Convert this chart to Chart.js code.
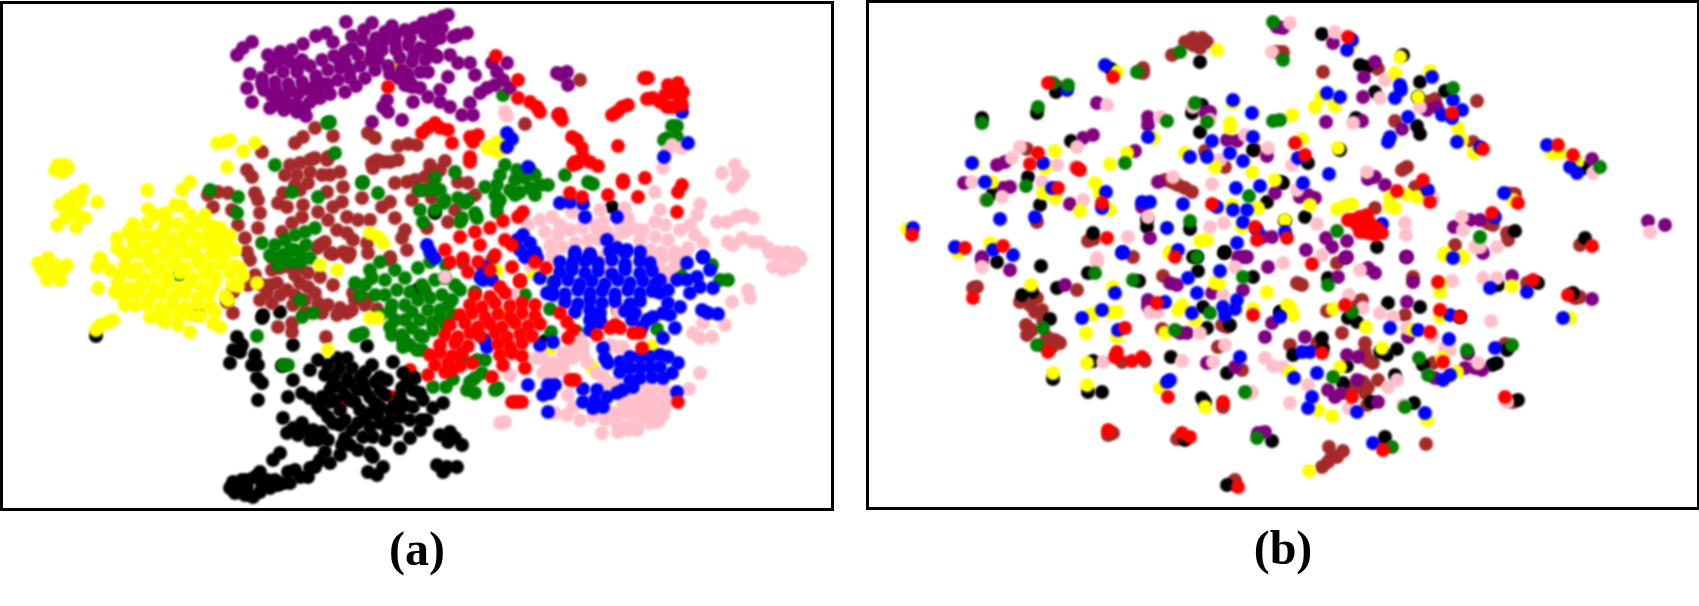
<!DOCTYPE html>
<html>
<head>
<meta charset="utf-8">
<title>t-SNE panels</title>
<script src="https://cdn.jsdelivr.net/npm/chart.js@4/dist/chart.umd.min.js"></script>
<style>
  html, body { margin: 0; padding: 0; background: #fff; }
  canvas { position: absolute; top: 0; }
  #panelA { left: 0; }
  #panelB { left: 849px; }
</style>
</head>
<body>
<canvas id="panelA" width="849" height="606"></canvas>
<canvas id="panelB" width="850" height="606"></canvas>
<script>
// values, in the picture's own x / y units

// panel (a)
const aPurple = [[237,55],[243,48],[252,42],[346,22],[372,23],[303,44],[316,36],[326,33],[333,42],[268,55],[280,52],[292,50],[278,62],[290,62],[302,60],[270,68],[283,72],[297,72],[310,66],[322,60],[334,56],[345,52],[250,74],[262,78],[275,82],[288,84],[302,82],[316,76],[328,70],[340,68],[247,88],[252,102],[264,90],[272,96],[285,96],[298,94],[310,90],[322,84],[270,108],[284,110],[297,112],[306,116],[282,100],[296,104],[310,102],[320,98],[330,94],[318,90],[345,92],[356,86],[365,78],[350,70],[352,36],[362,40],[372,46],[385,32],[392,26],[405,30],[415,28],[425,34],[423,23],[433,20],[442,17],[448,15],[453,37],[467,33],[458,35],[345,62],[358,55],[370,60],[382,50],[395,42],[408,45],[420,48],[432,42],[440,38],[375,70],[388,66],[400,58],[412,62],[425,60],[420,72],[408,74],[435,55],[450,55],[437,57],[458,63],[470,63],[428,72],[448,77],[475,75],[440,90],[428,97],[450,107],[440,102],[470,103],[462,115],[473,115],[492,63],[507,63],[497,72],[503,80],[487,88],[480,93],[510,88],[495,85],[562,75],[557,73],[568,85],[567,72],[387,100],[383,107],[388,112],[372,122],[402,120],[413,102],[412,87],[405,85],[420,88],[274,60],[286,56],[298,66],[262,84],[276,90],[290,90],[304,88],[316,84],[276,104],[290,106],[304,108],[316,96],[328,84],[338,80],[350,78],[360,66],[372,54],[384,40],[396,34],[410,38],[424,28],[434,30],[378,60],[390,74],[402,70],[414,54],[428,50],[442,28],[340,60],[352,48],[364,30],[376,38],[396,50],[410,82],[398,78]];
const aYellow = [[58,165],[65,165],[55,170],[62,172],[68,168],[60,205],[68,200],[75,195],[83,190],[80,200],[97,202],[70,212],[78,215],[65,218],[85,218],[57,225],[76,227],[72,205],[38,263],[48,258],[42,270],[52,272],[62,270],[67,265],[55,265],[47,280],[60,280],[96,330],[100,325],[108,322],[113,320],[147,190],[182,190],[190,182],[148,209],[165,213],[175,205],[182,206],[167,220],[133,224],[147,223],[117,238],[133,241],[117,248],[122,252],[100,258],[217,143],[225,142],[230,140],[255,143],[243,151],[227,167],[165,226],[178,224],[191,227],[200,222],[212,226],[220,228],[150,236],[161,233],[172,238],[184,234],[196,237],[208,233],[220,238],[230,235],[135,245],[147,248],[158,243],[170,247],[182,244],[194,248],[206,243],[218,247],[228,244],[128,255],[140,253],[152,258],[164,254],[176,257],[188,253],[200,258],[212,254],[224,257],[125,265],[137,268],[149,263],[161,267],[173,264],[185,268],[197,263],[209,267],[221,264],[235,266],[120,275],[132,273],[144,278],[156,274],[168,277],[180,273],[192,278],[204,274],[216,277],[230,273],[243,276],[118,285],[130,288],[142,283],[154,287],[166,284],[178,288],[190,283],[202,287],[214,284],[238,286],[125,295],[137,293],[149,298],[161,294],[173,297],[185,293],[197,298],[209,294],[225,296],[147,305],[160,308],[172,304],[185,307],[197,304],[210,306],[165,315],[178,314],[98,288],[97,267],[102,262],[118,282],[115,292],[125,305],[139,290],[150,317],[165,322],[190,315],[210,307],[213,323],[190,332],[220,327],[378,237],[383,243],[370,233],[320,265],[337,270],[257,283],[370,318],[378,318],[328,350],[497,271],[533,273],[507,314],[550,348],[592,367],[652,346],[488,148],[497,142],[505,148],[488,147],[497,152],[398,67],[215,240],[235,250],[240,268],[232,285],[228,300],[215,312],[200,316],[178,325],[160,318],[135,305],[122,295],[110,270],[155,215],[190,215],[205,215],[140,235],[128,232]];
const aRed = [[388,87],[496,56],[518,80],[518,98],[530,102],[537,107],[540,112],[558,115],[562,120],[560,114],[572,137],[577,140],[582,148],[578,163],[573,165],[575,162],[590,162],[598,166],[583,157],[618,146],[623,180],[623,183],[645,178],[682,185],[678,192],[638,197],[608,195],[570,193],[582,197],[677,212],[523,212],[518,217],[503,221],[644,78],[648,78],[647,99],[653,98],[660,102],[667,107],[673,107],[682,105],[668,85],[678,83],[683,92],[673,93],[665,95],[680,98],[628,105],[622,107],[617,112],[612,115],[435,123],[428,128],[440,128],[448,130],[452,143],[422,133],[470,137],[478,135],[473,142],[470,157],[470,162],[445,250],[460,237],[475,232],[490,228],[505,240],[512,245],[480,245],[495,255],[450,262],[463,258],[478,262],[468,272],[490,270],[500,287],[475,295],[490,297],[505,293],[520,282],[470,305],[482,307],[495,303],[510,306],[522,303],[535,305],[460,315],[472,313],[485,317],[498,314],[510,317],[522,313],[535,316],[450,325],[465,323],[478,327],[490,324],[502,327],[515,323],[528,326],[540,324],[445,335],[458,337],[470,333],[480,336],[495,333],[507,337],[520,334],[532,336],[440,345],[455,343],[468,346],[498,344],[510,347],[522,343],[430,355],[440,353],[452,356],[462,353],[500,355],[512,353],[522,356],[435,365],[448,363],[460,366],[472,363],[503,365],[445,372],[452,370],[525,368],[428,375],[492,377],[567,322],[573,330],[568,338],[560,313],[615,325],[620,328],[610,328],[633,333],[640,333],[597,335],[642,348],[575,380],[570,380],[517,402],[522,402],[512,402],[678,402],[512,267],[520,280],[535,262],[546,268]];
const aRedOver = [[392,397],[410,370],[341,403],[618,310]];
const aBlue = [[507,133],[512,139],[507,147],[528,167],[560,203],[570,202],[583,204],[585,217],[617,217],[682,112],[688,143],[664,157],[517,240],[523,235],[530,243],[520,250],[535,252],[525,257],[427,245],[430,252],[607,240],[617,248],[627,250],[575,257],[590,257],[703,257],[575,252],[590,254],[610,251],[625,253],[640,252],[560,262],[572,264],[585,261],[598,263],[612,260],[625,264],[640,261],[650,263],[560,272],[572,270],[585,273],[598,271],[612,274],[625,270],[640,273],[652,271],[555,282],[568,280],[580,284],[592,281],[605,284],[618,280],[630,283],[643,281],[655,284],[660,280],[552,292],[565,294],[578,290],[590,293],[602,291],[615,294],[628,290],[640,293],[652,291],[565,302],[578,304],[590,300],[602,303],[615,301],[630,304],[640,301],[575,312],[590,310],[600,313],[625,311],[635,313],[590,320],[600,321],[632,320],[483,280],[492,280],[480,277],[530,255],[537,258],[540,278],[547,293],[553,295],[590,330],[600,323],[593,317],[540,345],[553,342],[487,347],[485,340],[687,263],[703,257],[710,270],[697,277],[687,280],[677,280],[668,290],[660,293],[690,293],[700,287],[713,288],[680,307],[668,303],[663,313],[653,317],[647,320],[670,315],[702,310],[708,313],[718,314],[675,328],[663,338],[642,327],[603,348],[605,358],[608,363],[620,362],[630,357],[640,357],[650,357],[660,355],[668,357],[678,363],[620,372],[630,368],[640,368],[650,367],[660,367],[672,373],[630,380],[640,378],[652,377],[663,378],[633,387],[677,392],[583,389],[583,402],[597,390],[595,400],[607,397],[617,393],[623,390],[593,408],[603,407],[528,385],[555,385],[548,385],[543,395],[550,393],[548,412],[435,258],[483,267]];
const aPink = [[505,112],[507,116],[735,165],[722,173],[737,173],[743,175],[733,187],[738,182],[663,168],[655,192],[700,204],[697,215],[717,222],[727,222],[737,217],[745,215],[753,218],[728,242],[733,245],[742,238],[753,242],[760,242],[768,248],[778,252],[787,252],[795,253],[800,257],[770,253],[780,257],[790,257],[800,260],[773,267],[783,270],[793,267],[748,290],[750,298],[732,302],[725,325],[703,323],[693,333],[700,338],[712,337],[700,373],[689,389],[672,145],[667,151],[682,148],[703,243],[660,210],[655,222],[665,225],[643,230],[655,237],[668,240],[680,230],[690,225],[695,235],[640,240],[650,250],[662,252],[675,252],[688,248],[650,255],[662,258],[675,258],[685,255],[660,270],[670,272],[665,278],[675,265],[540,220],[552,217],[560,225],[572,212],[585,217],[545,232],[558,235],[570,230],[582,228],[595,225],[550,245],[562,247],[575,243],[588,240],[598,232],[575,255],[590,252],[552,255],[528,225],[585,262],[600,210],[603,222],[607,232],[615,238],[625,232],[628,218],[625,208],[600,240],[633,228],[620,225],[605,255],[605,268],[618,312],[617,347],[610,345],[623,347],[445,277],[513,295],[530,265],[543,358],[537,358],[548,365],[543,373],[553,373],[553,363],[563,363],[563,353],[573,358],[583,353],[583,345],[580,338],[587,362],[573,348],[563,370],[597,373],[603,377],[615,383],[607,383],[568,395],[573,407],[555,413],[567,415],[580,420],[505,422],[500,423],[510,375],[593,416],[653,387],[663,388],[670,397],[647,390],[633,397],[642,398],[652,398],[662,398],[623,403],[633,405],[643,407],[653,408],[665,407],[613,413],[623,413],[633,415],[643,417],[653,417],[663,415],[605,420],[617,423],[627,427],[637,427],[650,423],[658,422],[618,432],[628,430],[602,433],[637,430]];
const aGreen = [[327,123],[330,122],[335,153],[275,165],[210,190],[238,197],[363,182],[362,183],[318,197],[292,192],[378,193],[237,213],[275,245],[285,240],[295,235],[305,232],[315,228],[270,255],[282,255],[294,250],[306,245],[290,262],[278,265],[262,243],[310,258],[300,262],[500,175],[505,165],[517,170],[515,180],[497,185],[485,187],[530,170],[525,178],[535,175],[540,185],[548,185],[510,190],[520,192],[495,195],[530,188],[535,195],[500,200],[497,205],[497,212],[515,195],[565,175],[588,182],[593,184],[455,172],[440,190],[430,190],[445,200],[443,203],[435,210],[458,198],[465,203],[468,200],[475,213],[477,218],[420,210],[423,222],[460,222],[462,218],[435,178],[420,190],[503,95],[677,126],[672,126],[668,138],[677,137],[664,140],[365,285],[355,283],[370,270],[380,262],[375,295],[385,280],[395,270],[405,278],[418,268],[430,262],[385,295],[397,290],[410,292],[422,285],[435,280],[445,278],[455,285],[392,305],[405,305],[418,300],[430,298],[442,295],[452,300],[460,290],[428,310],[440,310],[452,315],[420,320],[432,322],[445,325],[395,320],[405,320],[392,335],[402,335],[410,345],[403,340],[420,335],[380,315],[433,330],[423,337],[422,350],[257,336],[300,300],[302,317],[283,365],[288,365],[313,313],[358,335],[355,336],[363,333],[390,327],[403,338],[403,347],[417,350],[463,360],[477,360],[485,360],[482,373],[475,378],[470,382],[467,390],[475,393],[498,388],[495,390],[453,379],[446,387],[433,387],[475,292],[525,295],[550,309],[551,332],[553,282],[577,332],[657,329],[680,273],[712,265],[720,280],[728,280],[446,265],[179,275],[372,278],[390,312],[412,312],[425,290],[440,318],[412,328],[448,305],[360,295],[290,250],[300,252]];
const aBrown = [[295,143],[303,137],[315,128],[333,136],[368,133],[375,138],[398,146],[408,144],[417,145],[328,157],[327,160],[262,152],[247,170],[252,177],[340,172],[290,165],[300,163],[310,160],[285,175],[297,175],[310,172],[322,175],[295,185],[308,183],[300,190],[315,158],[330,175],[372,163],[377,160],[383,162],[390,162],[398,160],[373,168],[395,183],[407,182],[415,180],[412,200],[418,190],[208,195],[218,192],[228,193],[213,207],[232,210],[255,193],[258,200],[283,193],[278,203],[287,207],[260,213],[303,205],[327,192],[343,187],[342,202],[362,198],[333,207],[347,217],[382,207],[390,202],[318,212],[302,217],[292,223],[282,232],[328,220],[358,220],[370,220],[395,218],[337,230],[347,233],[405,230],[402,238],[238,225],[258,228],[245,238],[320,245],[325,242],[317,248],[353,240],[367,243],[343,252],[350,253],[330,253],[407,250],[390,257],[247,252],[273,258],[430,165],[445,161],[430,173],[440,170],[425,177],[425,190],[432,198],[433,185],[458,182],[468,183],[475,195],[455,210],[448,222],[427,228],[525,124],[580,80],[250,260],[272,270],[280,268],[290,267],[300,267],[308,273],[320,277],[333,285],[277,283],[267,293],[287,290],[300,283],[308,287],[315,293],[260,300],[272,303],[293,305],[328,305],[322,313],[337,315],[347,313],[355,300],[362,298],[367,300],[353,293],[377,309],[248,285],[233,292],[227,302],[233,313],[198,314],[292,323],[278,327],[292,332],[326,337],[463,263],[492,260],[368,253],[390,260],[348,257],[333,254],[283,265],[295,275],[280,295],[295,295],[305,300],[318,303],[270,285],[255,275],[262,285],[340,308],[352,310],[365,305],[305,312]];
const aBlack = [[96,336],[280,312],[262,318],[263,315],[293,345],[367,346],[282,366],[237,337],[242,345],[233,350],[240,352],[230,363],[255,355],[252,365],[258,365],[257,378],[262,383],[258,400],[288,397],[293,380],[283,418],[318,360],[310,370],[337,358],[347,358],[340,368],[325,375],[347,378],[372,365],[393,362],[360,377],[380,377],[333,383],[302,393],[310,398],[322,397],[330,390],[340,387],[350,383],[322,410],[328,417],[333,423],[340,410],[350,400],[357,390],[363,383],[370,397],[380,390],[387,380],[360,410],[370,413],[380,407],[390,410],[400,397],[407,383],[413,390],[403,373],[358,423],[370,427],[380,423],[390,420],[400,417],[363,437],[373,437],[385,440],[397,430],[410,438],[420,430],[400,448],[413,407],[420,393],[345,438],[302,423],[293,428],[287,433],[298,435],[313,430],[310,440],[318,440],[328,440],[358,450],[370,453],[373,457],[368,472],[377,475],[383,467],[340,455],[330,463],[320,460],[315,467],[308,477],[300,477],[288,472],[290,483],[283,483],[275,480],[267,480],[260,472],[255,477],[270,488],[260,492],[253,497],[245,495],[235,493],[230,488],[233,482],[242,480],[248,480],[280,453],[273,460],[423,400],[433,408],[443,403],[427,420],[421,420],[450,432],[455,438],[462,445],[448,442],[440,435],[437,465],[447,467],[457,467],[443,472],[545,341],[435,213],[612,207],[417,290],[335,400],[345,395],[355,402],[365,390],[375,403],[385,395],[395,405],[405,405],[345,420],[352,430],[365,418],[378,415],[388,430],[400,408],[318,405],[330,402],[340,425],[322,432],[305,430],[350,445],[410,420],[402,388],[375,382],[365,372],[352,368],[335,375],[328,365],[415,378],[342,445],[278,485],[262,484],[247,488],[240,488],[295,470],[310,468],[325,452]];

// panel (b)
const bRed = [[1048,83],[1113,77],[1038,153],[1030,164],[1077,168],[1080,170],[1058,188],[1212,204],[1102,203],[1107,238],[1003,246],[965,248],[912,235],[1175,257],[1255,227],[1257,240],[1348,37],[1452,113],[1295,143],[1483,149],[1558,145],[1573,155],[1305,155],[1423,180],[1397,191],[1430,202],[1353,220],[1360,217],[1367,215],[1348,220],[1357,225],[1363,227],[1370,223],[1377,228],[1382,233],[1360,232],[1368,233],[1375,235],[1492,213],[1592,246],[1287,238],[1518,203],[973,298],[1048,352],[1117,352],[1115,357],[1132,361],[1142,357],[1125,328],[1168,397],[1223,402],[1108,430],[1182,433],[1190,437],[1238,487],[1157,303],[1253,315],[1312,264],[1345,305],[1438,282],[1440,310],[1460,317],[1533,280],[1568,295],[1430,332],[1443,362],[1505,397],[1322,353],[1352,397],[1383,450]];
const bGreen = [[1068,85],[1053,83],[1180,52],[1273,22],[1038,107],[1167,121],[1207,122],[1273,121],[1026,186],[1125,163],[1249,196],[1190,221],[987,200],[1137,72],[1195,103],[982,123],[1337,231],[1453,88],[1600,167],[1480,237],[1283,60],[1280,120],[1095,273],[1133,280],[1210,313],[1175,330],[1245,392],[1257,438],[1197,257],[1037,345],[1043,328],[1243,277],[1333,377],[1328,285],[1352,312],[1419,358],[1428,375],[1467,350],[1405,407],[1392,447],[1512,345]];
const bBlue = [[1105,65],[1067,90],[1233,100],[1252,113],[1148,137],[1212,141],[1253,137],[1230,153],[1190,157],[1207,157],[1243,161],[972,163],[1043,163],[985,182],[1052,188],[1106,192],[1236,188],[1260,186],[1000,219],[1035,217],[1142,202],[1150,202],[1183,204],[1217,207],[1233,210],[1247,210],[1102,208],[913,228],[955,247],[993,250],[1013,255],[1237,243],[1257,230],[1243,222],[1123,252],[1178,250],[1167,228],[1347,50],[1352,40],[1400,85],[1401,90],[1395,98],[1327,93],[1340,97],[1432,77],[1453,100],[1462,110],[1442,115],[1452,118],[1408,117],[1390,137],[1388,142],[1457,142],[1480,147],[1547,145],[1570,167],[1577,173],[1329,174],[1303,183],[1428,190],[1382,224],[1495,217],[1504,193],[1285,232],[1298,158],[1122,253],[1188,278],[1197,293],[1220,271],[1165,302],[1223,307],[1237,300],[1235,309],[1225,315],[1115,293],[1192,313],[1082,318],[1102,310],[1118,330],[1167,382],[1170,380],[1240,357],[1280,317],[1302,352],[1310,352],[1317,373],[1294,378],[1312,397],[1308,408],[1357,412],[1390,328],[1418,330],[1449,339],[1450,315],[1443,380],[1450,375],[1425,413],[1373,443],[1495,348],[1563,318],[1527,292],[1490,288],[1453,258]];
const bYellow = [[1217,50],[1117,72],[1230,123],[1230,128],[1153,138],[1233,103],[1055,151],[1110,164],[974,163],[1045,168],[1185,153],[1252,172],[992,182],[1215,167],[1095,183],[1100,193],[1043,193],[1055,198],[1080,211],[1110,210],[1232,205],[1258,208],[1242,227],[1275,180],[1168,228],[907,229],[958,250],[990,243],[1170,252],[1200,241],[1207,240],[1127,153],[1430,71],[1395,73],[1400,57],[1352,44],[1321,97],[1315,107],[1335,102],[1335,106],[1292,115],[1458,128],[1462,140],[1474,153],[1302,139],[1418,97],[1552,153],[1560,153],[1577,162],[1337,209],[1345,206],[1352,204],[1390,197],[1395,208],[1390,206],[1407,195],[1417,197],[1285,220],[1310,205],[1445,253],[1463,257],[1338,148],[1513,200],[958,252],[1031,285],[1113,287],[1086,333],[1090,315],[1095,313],[1110,312],[1117,312],[1117,337],[1087,363],[1053,373],[1087,385],[1160,388],[1205,407],[1182,305],[1178,310],[1195,320],[1215,283],[1219,283],[1253,309],[1267,292],[1170,253],[1165,333],[1290,307],[1293,315],[1287,305],[1290,372],[1440,283],[1440,292],[1440,317],[1318,410],[1332,416],[1366,327],[1340,367],[1382,348],[1427,420],[1570,318],[1309,471],[1512,286],[1442,358],[1457,372],[1444,255],[1462,257],[1333,309],[1413,330]];
const bPink = [[1107,105],[1160,117],[1210,120],[1193,107],[1020,147],[1077,147],[1012,158],[1057,165],[1245,135],[1268,148],[1075,167],[1042,182],[972,182],[1212,184],[985,200],[1002,197],[1083,200],[1210,227],[1224,223],[1128,237],[1097,258],[1173,177],[1148,217],[1220,160],[1272,52],[1290,23],[1335,32],[1385,80],[1380,98],[1353,123],[1292,165],[1367,172],[1297,190],[1317,224],[1405,223],[1406,235],[1433,198],[1462,217],[1463,230],[1480,247],[1475,247],[1497,247],[1650,232],[1593,173],[1322,255],[1420,107],[1097,262],[982,267],[1235,267],[1223,295],[1150,312],[1158,312],[1200,333],[1225,345],[1182,361],[1213,362],[1265,358],[1273,366],[1252,392],[1248,394],[1103,362],[1283,263],[1360,270],[1452,281],[1483,278],[1497,278],[1349,295],[1380,313],[1393,317],[1363,308],[1407,328],[1432,337],[1491,321],[1445,348],[1450,350],[1308,385],[1290,403],[1349,408],[1388,387],[1397,380],[1478,363],[1283,367],[1507,402],[1403,405]];
const bPurple = [[1097,103],[1148,117],[1148,125],[1205,112],[1210,112],[1093,135],[1083,138],[1135,151],[1005,162],[997,165],[964,183],[1010,187],[1003,188],[1070,204],[1227,140],[1237,141],[1267,156],[1158,182],[1142,207],[1150,238],[1263,237],[1272,237],[1277,27],[1243,257],[1275,193],[982,257],[1283,28],[1333,43],[1375,62],[1364,77],[1363,97],[1326,122],[1362,121],[1402,129],[1427,110],[1437,107],[1592,159],[1368,179],[1375,177],[1385,185],[1300,197],[1308,195],[1315,198],[1326,238],[1332,247],[1347,241],[1306,250],[1347,257],[1454,227],[1470,220],[1480,220],[1648,221],[1665,225],[1406,257],[1483,253],[982,260],[1010,270],[1065,285],[1148,300],[1148,306],[1170,283],[1177,285],[1212,293],[1243,290],[1238,257],[1247,257],[1268,267],[1180,333],[1187,333],[1265,337],[1207,363],[1235,367],[1272,323],[1258,433],[1265,432],[1305,337],[1338,277],[1368,268],[1375,273],[1413,282],[1407,257],[1345,258],[1512,276],[1407,302],[1408,337],[1347,355],[1358,357],[1468,354],[1465,368],[1475,368],[1482,370],[1435,378],[1328,390],[1335,397],[1342,393],[1378,402],[1592,299],[1357,380]];
const bBlack = [[1111,69],[1200,62],[1056,92],[982,118],[1037,113],[1202,105],[1192,113],[1200,132],[1071,141],[1253,150],[1028,177],[993,193],[1040,205],[1147,220],[1147,227],[1190,229],[1093,233],[1267,202],[1280,182],[1225,252],[1193,257],[1322,34],[1403,55],[1367,67],[1360,65],[1420,82],[1418,97],[1375,92],[1445,91],[1356,118],[1417,126],[1420,134],[1340,150],[1308,163],[1283,183],[1585,168],[1285,221],[1305,217],[1515,231],[1377,247],[1585,238],[1088,273],[1139,281],[1197,257],[1198,271],[997,262],[1041,266],[1224,253],[1253,277],[1057,288],[1032,292],[1022,295],[1050,319],[1203,307],[1207,328],[1230,325],[1093,361],[1171,357],[1227,373],[1053,379],[1088,392],[1102,392],[1202,398],[1205,402],[1185,440],[1272,441],[1227,485],[1280,312],[1328,278],[1498,285],[1538,283],[1460,317],[1388,303],[1420,307],[1348,318],[1357,322],[1395,375],[1322,338],[1323,348],[1293,355],[1397,349],[1380,352],[1387,355],[1347,366],[1423,365],[1492,365],[1497,363],[1507,350],[1343,383],[1371,402],[1414,403],[1518,400],[1385,437],[1281,312],[1573,293]];
const bBrown = [[1185,42],[1193,38],[1202,38],[1207,42],[1193,45],[1200,48],[1172,55],[1143,68],[1143,73],[1058,87],[1277,52],[1027,149],[1205,151],[1255,150],[1225,167],[1165,180],[1172,182],[1178,185],[1185,188],[1192,192],[1037,222],[1094,239],[1088,241],[1133,257],[1323,72],[1378,69],[1430,102],[1425,102],[1435,99],[1477,101],[1395,121],[1407,167],[1402,170],[1415,187],[1420,192],[1375,208],[1515,194],[1510,194],[1455,245],[1488,223],[1493,225],[1507,233],[1508,240],[1580,245],[1473,142],[1283,52],[973,288],[977,287],[1020,302],[1030,305],[1037,298],[1035,312],[1042,310],[1043,320],[1026,325],[1032,330],[1027,335],[1047,337],[1055,340],[1043,345],[1052,347],[1060,343],[1077,290],[1122,362],[1145,361],[1162,329],[1163,276],[1218,347],[1222,325],[1227,327],[1223,407],[1108,435],[1113,433],[1177,439],[1233,483],[1235,480],[1242,370],[1297,283],[1302,285],[1337,263],[1413,277],[1357,302],[1362,300],[1327,311],[1342,333],[1290,345],[1317,343],[1405,315],[1365,343],[1365,352],[1368,360],[1373,363],[1433,363],[1527,283],[1575,298],[1580,297],[1505,344],[1513,402],[1363,382],[1358,387],[1368,387],[1378,380],[1365,393],[1352,387],[1367,405],[1384,443],[1426,444],[1329,447],[1337,457],[1343,451],[1332,456],[1322,467],[1328,462]];

const panelASeries = [
  { data: aRed, color: "#ff0000" },
  { data: aBlue, color: "#0000ff" },
  { data: aPink, color: "#ffc0cb" },
  { data: aPurple, color: "#800080" },
  { data: aYellow, color: "#ffff00" },
  { data: aGreen, color: "#008000" },
  { data: aBrown, color: "#a52a2a" },
  { data: aBlack, color: "#000000" },
  { data: aRedOver, color: "#ff0000" },
];
const panelBSeries = [
  { data: bRed, color: "#ff0000" },
  { data: bGreen, color: "#008000" },
  { data: bBlue, color: "#0000ff" },
  { data: bYellow, color: "#ffff00" },
  { data: bPink, color: "#ffc0cb" },
  { data: bPurple, color: "#800080" },
  { data: bBlack, color: "#000000" },
  { data: bBrown, color: "#a52a2a" },
];

// soft dots + the black frame round the plot
const panelLook = {
  id: "panelLook",
  beforeDatasetsDraw(chart) {
    chart.ctx.save();
    chart.ctx.filter = "blur(0.8px)";
  },
  afterDatasetsDraw(chart) {
    chart.ctx.restore();
  },
  afterDraw(chart) {
    const { ctx, chartArea: a } = chart;
    ctx.save();
    ctx.strokeStyle = "#000";
    ctx.lineWidth = 3;
    ctx.strokeRect(a.left - 1.5, a.top - 1.5, a.right - a.left + 3, a.bottom - a.top + 3);
    ctx.restore();
  },
};

function drawPanel(id, series, caption, xMin, xMax, yMin, yMax, padding) {
  new Chart(id, {
    type: "scatter",
    data: {
      datasets: series.map((s) => ({
        data: s.data,
        backgroundColor: s.color,
        borderWidth: 0,
        pointRadius: 7,
        pointHoverRadius: 7,
      })),
    },
    options: {
      responsive: false,
      animation: false,
      events: [],
      layout: { padding, autoPadding: false },
      plugins: { legend: { display: false }, tooltip: { enabled: false } },
      scales: {
        x: {
          type: "linear",
          min: xMin,
          max: xMax,
          grid: { display: false, drawTicks: false },
          border: { display: false },
          ticks: { display: false },
          title: {
            display: true,
            text: caption,
            color: "#000",
            font: { family: "'Liberation Serif'", size: 48, weight: "bold" },
            padding: { top: 16, bottom: 0 },
          },
        },
        y: {
          type: "linear",
          reverse: true,
          min: yMin,
          max: yMax,
          display: false,
        },
      },
    },
    plugins: [panelLook],
  });
}

drawPanel("panelA", panelASeries, "(a)", 3, 831, 4, 508, { left: 3, right: 18, top: 4, bottom: 24.4 });
drawPanel("panelB", panelBSeries, "(b)", 869, 1697, 3, 507, { left: 20, right: 2, top: 3, bottom: 25.4 });
</script>
</body>
</html>
